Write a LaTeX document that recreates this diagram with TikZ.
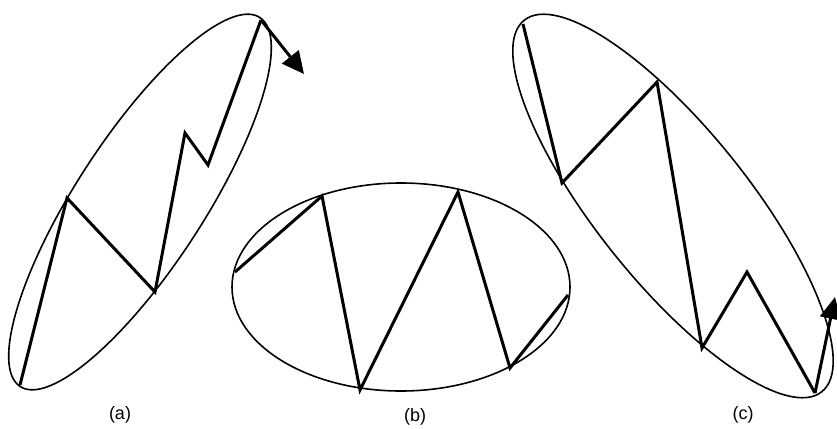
\documentclass[tikz,border=0pt]{standalone}
\usepackage{fontspec}
\setmainfont{Liberation Sans}
\usetikzlibrary{calc}
\usetikzlibrary{arrows.meta}

\begin{document}
\begin{tikzpicture}[x=1pt, y=-1pt,
  rim/.style={line width=1.6pt},
  zig/.style={line width=3pt},
  flow/.style={-{Triangle[length=22pt, width=21pt]}, line width=3pt},
  caption/.style={font=\fontsize{18}{20}\selectfont, inner sep=0pt}]
\useasboundingbox (0,0) rectangle (837,428);

% ellipse centres
\coordinate (Ea) at (140,202);
\coordinate (Eb) at (401,287);
\coordinate (Ec) at (673,206);

% (a)
\coordinate (A0) at (20,385);
\coordinate (A1) at (67,198);
\coordinate (A2) at (155,292);
\coordinate (A3) at (185,133);
\coordinate (A4) at (208,165);
\coordinate (A5) at (261,20);
\coordinate (Aend) at (304,74);

% (b)
\coordinate (B0) at (235,272);
\coordinate (B1) at (322,196);
\coordinate (B2) at (360,390);
\coordinate (B3) at (458,192);
\coordinate (B4) at (510,368);
\coordinate (B5) at (568,295);

% (c)
\coordinate (C0) at (523,24);
\coordinate (C1) at (562,183);
\coordinate (C2) at (657,82);
\coordinate (C3) at (702,348);
\coordinate (C4) at (747,272);
\coordinate (C5) at (815,393);
\coordinate (Cend) at (835,297);

\draw[rim, rotate around={57:(Ea)}] (Ea) ellipse [x radius=220, y radius=64];
\draw[rim] (Eb) ellipse [x radius=169, y radius=104];
\draw[rim, rotate around={-51.3:(Ec)}] (Ec) ellipse [x radius=238, y radius=76];

\draw[zig] (A0) -- (A1) -- (A2) -- (A3) -- (A4) -- (A5);
\draw[flow] (A5) -- (Aend);

\draw[zig] (B0) -- (B1) -- (B2) -- (B3) -- (B4) -- (B5);

\draw[zig] (C0) -- (C1) -- (C2) -- (C3) -- (C4) -- (C5);
\draw[flow] (C5) -- (Cend);

\node[caption] (capa) at (120,415) {(a)};
\node[caption] (capb) at (415,417) {(b)};
\node[caption] (capc) at (743,415) {(c)};
\end{tikzpicture}
\end{document}
